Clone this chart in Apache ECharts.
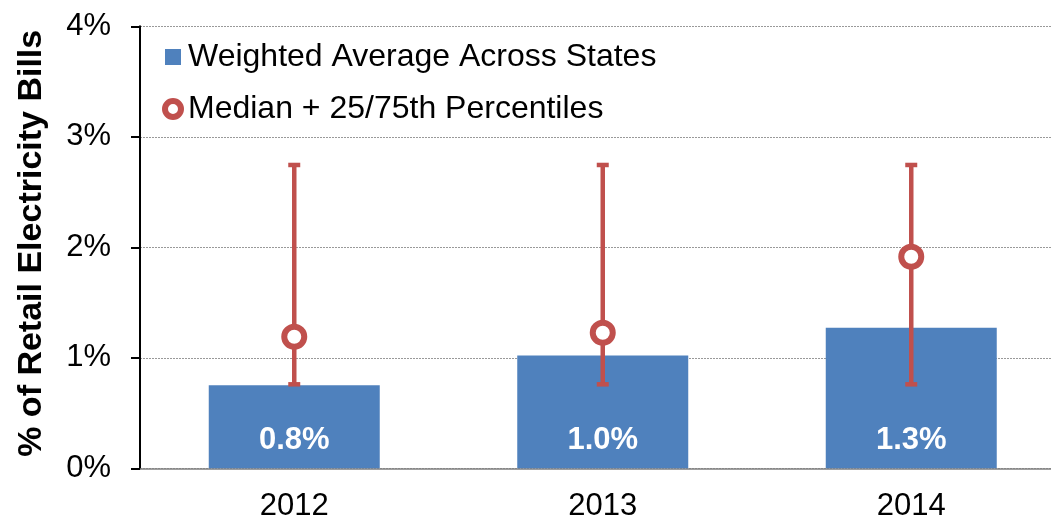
<!DOCTYPE html>
<html>
<head>
<meta charset="utf-8">
<script src="https://cdn.jsdelivr.net/npm/echarts@6/dist/echarts.min.js"></script>
<style>
html,body{margin:0;padding:0;background:#fff;}
#chart{width:1051px;height:518px;}
</style>
</head>
<body>
<div id="chart"></div>
<script>
const categories = ['2012', '2013', '2014'];
const weightedAverage = [0.751, 1.021, 1.272];
const medianValues = [1.191, 1.227, 1.915];
const percentile25 = [0.76, 0.76, 0.76];
const percentile75 = [2.745, 2.745, 2.745];
const yTicks = [0, 1, 2, 3, 4];

const FONT = '"Liberation Sans", Arial, sans-serif';
const BLUE = '#4F81BD';
const RED = '#C0504D';

const errorData = categories.map((c, i) => [i, percentile25[i], percentile75[i]]);

const chart = echarts.init(document.getElementById('chart'), null, {renderer: 'canvas'});
chart.setOption({
  animation: false,
  backgroundColor: '#fff',
  grid: {left: 140, right: -14.5, top: 26.3, bottom: 49.7, outerBoundsMode: 'none', containLabel: false},
  legend: {
    orient: 'vertical',
    left: 162,
    top: 41,
    padding: 0,
    itemWidth: 16,
    itemHeight: 16,
    itemGap: 20,
    textStyle: {fontFamily: FONT, fontSize: 32, color: '#000', lineHeight: 32, padding: [0, 0, 0, 2]},
    data: [
      {name: 'Weighted Average Across States', icon: 'rect', itemStyle: {color: BLUE, borderWidth: 0}},
      {name: 'Median + 25/75th Percentiles', icon: 'circle', itemStyle: {color: '#fff', borderColor: RED, borderWidth: 6}}
    ]
  },
  xAxis: {
    type: 'category',
    data: categories,
    axisLine: {show: true, lineStyle: {color: '#808080', width: 1.5}},
    axisTick: {show: false},
    axisLabel: {fontFamily: FONT, fontSize: 31, color: '#000', margin: 23},
    splitLine: {show: false}
  },
  yAxis: {
    type: 'value',
    min: yTicks[0],
    max: yTicks[yTicks.length - 1],
    interval: 1,
    name: '% of Retail Electricity Bills',
    nameLocation: 'middle',
    nameRotate: 90,
    nameGap: 91,
    nameTextStyle: {fontFamily: FONT, fontSize: 34, fontWeight: 'bold', color: '#000', padding: [0, 0, 0, 8]},
    axisLine: {show: true, lineStyle: {color: '#000', width: 2}},
    axisTick: {show: true, inside: false, length: 9, lineStyle: {color: '#000', width: 2}},
    axisLabel: {fontFamily: FONT, fontSize: 31, color: '#000', margin: 29, formatter: '{value}%'},
    splitLine: {show: true, lineStyle: {color: '#999', width: 1, type: [2, 1]}}
  },
  series: [
    {
      name: 'Weighted Average Across States',
      type: 'bar',
      data: weightedAverage,
      barWidth: 171,
      itemStyle: {color: BLUE},
      label: {
        show: true,
        position: 'insideBottom',
        distance: 12,
        fontFamily: FONT,
        fontSize: 31,
        fontWeight: 'bold',
        color: '#fff',
        formatter: p => p.value.toFixed(1) + '%'
      },
      z: 2
    },
    {
      name: 'Median + 25/75th Percentiles',
      type: 'custom',
      data: errorData,
      z: 3,
      renderItem: function (params, api) {
        const x = api.value(0);
        const lo = api.coord([x, api.value(1)]);
        const hi = api.coord([x, api.value(2)]);
        const half = 6;
        const style = {stroke: RED, lineWidth: 4.5};
        return {
          type: 'group',
          children: [
            {type: 'line', shape: {x1: lo[0], y1: lo[1], x2: hi[0], y2: hi[1]}, style: style},
            {type: 'line', shape: {x1: lo[0] - half, y1: lo[1], x2: lo[0] + half, y2: lo[1]}, style: style},
            {type: 'line', shape: {x1: hi[0] - half, y1: hi[1], x2: hi[0] + half, y2: hi[1]}, style: style}
          ]
        };
      }
    },
    {
      name: 'Median + 25/75th Percentiles',
      type: 'scatter',
      data: medianValues,
      symbol: 'circle',
      symbolSize: 20,
      itemStyle: {color: '#fff', borderColor: RED, borderWidth: 6, opacity: 1},
      z: 4
    }
  ]
});
</script>
</body>
</html>
